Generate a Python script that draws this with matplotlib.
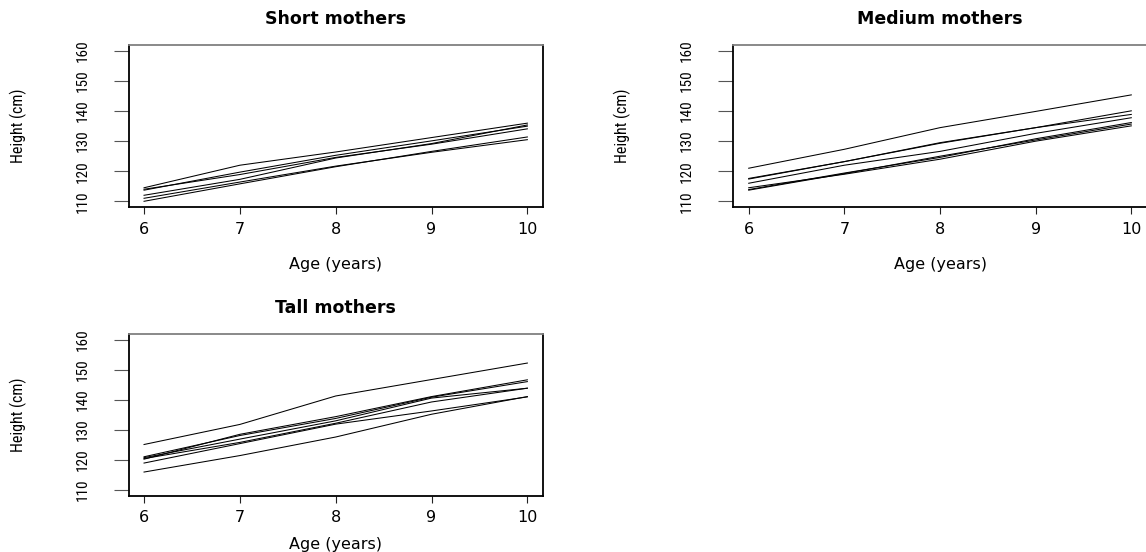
import matplotlib
matplotlib.use("Agg")
import matplotlib.pyplot as plt
from matplotlib import font_manager

ages = [6, 7, 8, 9, 10]
y_ticks = [110, 120, 130, 140, 150, 160]
x_label = "Age (years)"
y_label = "Height (cm)"
titles = ["Short mothers", "Medium mothers", "Tall mothers"]

short_mothers = [
    [111.0, 116.4, 121.7, 126.3, 130.5],
    [110.0, 115.8, 121.5, 126.6, 131.4],
    [113.7, 119.7, 125.3, 130.1, 135.0],
    [114.0, 118.9, 124.6, 129.0, 134.1],
    [114.5, 122.0, 126.4, 131.2, 136.0],
    [112.0, 117.3, 124.4, 129.2, 135.4],
]
medium_mothers = [
    [116.0, 122.0, 126.6, 132.6, 137.8],
    [117.6, 123.2, 129.3, 134.5, 138.9],
    [121.0, 127.3, 134.5, 139.9, 145.4],
    [114.5, 119.0, 124.0, 130.0, 135.1],
    [117.4, 123.2, 129.5, 134.5, 140.1],
    [113.7, 119.2, 125.0, 130.4, 135.7],
    [113.9, 119.4, 124.6, 130.8, 136.2],
]
tall_mothers = [
    [125.1, 131.8, 141.3, 146.8, 152.3],
    [120.2, 128.5, 134.4, 141.1, 146.7],
    [121.0, 128.1, 133.8, 140.9, 146.1],
    [120.7, 126.9, 133.0, 140.6, 143.9],
    [120.4, 125.8, 132.2, 139.3, 143.9],
    [118.9, 125.4, 131.9, 136.3, 141.0],
    [115.9, 121.4, 127.6, 135.2, 141.1],
]
groups = [short_mothers, medium_mothers, tall_mothers]


def pick(cands):
    names = {f.name for f in font_manager.fontManager.ttflist}
    for c in cands:
        if c in names:
            return c
    return "DejaVu Sans"


narrow = pick(["Roboto Condensed", "Liberation Sans"])
wide = "DejaVu Sans"

W, H = 1146, 552
fig = plt.figure(figsize=(W / 100, H / 100), dpi=100)

# axes boxes in pixels: left, top, right, bottom
boxes = [
    (128.7, 45.0, 542.7, 207.3),
    (733.4, 45.0, 1146.6, 207.3),
    (128.7, 334.0, 542.7, 495.7),
]
xlabel_centers = [265, 265, 544]
ylabel_offset = 110.7  # px left of the box

for data, title, (l, t, r, b), xl_c in zip(groups, titles, boxes, xlabel_centers):
    ax = fig.add_axes([l / W, 1 - b / H, (r - l) / W, (b - t) / H])
    for series in data:
        ax.plot(ages, series, color="black", lw=0.75, solid_joinstyle="miter")
    ax.set_xlim(6 - 0.16, 10 + 0.16)
    ax.set_ylim(110 - 2, 160 + 2)
    ax.set_xticks(ages)
    ax.set_xticklabels([str(a) for a in ages], fontfamily=wide, fontsize=11.5)
    ax.set_yticks(y_ticks)
    ax.set_yticklabels([str(v) for v in y_ticks], fontfamily=[narrow, "DejaVu Sans"],
                       fontsize=11, rotation=90, va="center")
    ax.tick_params(axis="x", direction="out", length=5, width=0.8, pad=5.5,
                   color="#222222")
    ax.tick_params(axis="y", direction="out", length=10.8, width=0.8, pad=17.5,
                   color="#555555")
    for side, sp in ax.spines.items():
        sp.set_linewidth(1.3)
        sp.set_color("black")
    ax.spines["top"].set_color("#808080")
    ax.set_title(title, fontfamily=wide, fontweight="bold", fontsize=12.5, pad=15)
    ax.set_xlabel(x_label, fontfamily=wide, fontsize=11.5)
    ax.xaxis.set_label_coords(0.5, -(xl_c - b) / (b - t))
    ax.xaxis.label.set_va("center")
    ax.set_ylabel(y_label, fontfamily=[narrow, "DejaVu Sans"], fontsize=11.5)
    ax.yaxis.set_label_coords(-ylabel_offset / (r - l), 0.5)
    ax.yaxis.label.set_va("center")

fig.savefig("out.png", dpi=100)
